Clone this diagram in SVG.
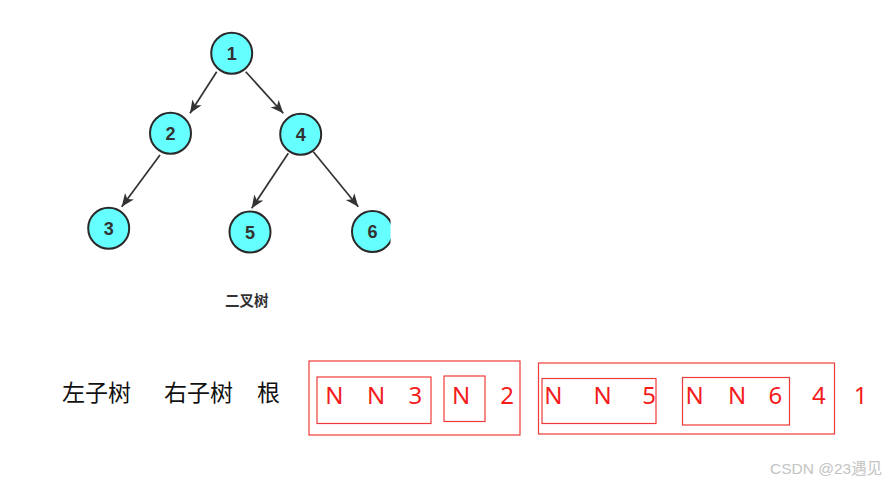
<svg xmlns="http://www.w3.org/2000/svg" width="890" height="483" viewBox="0 0 890 483">
<style>
.node circle{fill:#66FFFF;stroke:#2a2a2a;stroke-width:2}
.node text{font-family:"Liberation Sans","Noto Sans",sans-serif;font-weight:bold;font-size:18px;fill:#333;text-anchor:middle}
.edge{stroke:#333;stroke-width:1.7;fill:none;marker-end:url(#arr)}
.box{fill:none;stroke:#f03a3a;stroke-width:1.2}
.red{font-family:"Noto Sans","Noto Sans CJK SC",sans-serif;font-size:24px;fill:#f41c1c;text-anchor:middle}
.blk{font-family:"Noto Sans CJK SC",sans-serif;font-size:23px;fill:#111}
</style>
<defs>
<marker id="arr" markerUnits="userSpaceOnUse" markerWidth="14" markerHeight="12" refX="13" refY="6" orient="auto">
<path d="M0,0.5 L13,6 L0,11.5 L3.5,6 Z" fill="#333"/>
</marker>
<clipPath id="clip6"><rect x="340" y="200" width="50.5" height="60"/></clipPath>
</defs>
<rect width="890" height="483" fill="#fff"/>
<g id="connectors">
<line class="edge" x1="216.7" y1="71.7" x2="190" y2="113.3"/>
<line class="edge" x1="245.7" y1="71.7" x2="283.3" y2="113.3"/>
<line class="edge" x1="160" y1="155" x2="121.7" y2="206.7"/>
<line class="edge" x1="288.3" y1="153.3" x2="251.7" y2="208.3"/>
<line class="edge" x1="313.3" y1="151.7" x2="358.3" y2="206.7"/>
</g>
<g id="n1" class="node"><circle cx="231.7" cy="53.3" r="20.5"/><text x="231.7" y="59.8">1</text></g>
<g id="n2" class="node"><circle cx="170.5" cy="133.3" r="20.5"/><text x="170.5" y="139.8">2</text></g>
<g id="n4" class="node"><circle cx="300.7" cy="134.3" r="20.5"/><text x="300.7" y="140.8">4</text></g>
<g id="n3" class="node"><circle cx="108.7" cy="228.3" r="20.5"/><text x="108.7" y="234.8">3</text></g>
<g id="n5" class="node"><circle cx="250" cy="232" r="20.5"/><text x="250" y="238.5">5</text></g>
<g id="n6" class="node"><g clip-path="url(#clip6)"><circle cx="372.5" cy="231.5" r="20.5"/></g><text x="372.5" y="238">6</text></g>
<text x="225" y="306" font-family="'Noto Sans CJK SC',sans-serif" font-size="14.5" font-weight="bold" fill="#333">二叉树</text>
<text class="blk" x="62" y="400.5">左子树</text>
<text class="blk" x="164" y="400.5">右子树</text>
<text class="blk" x="257" y="400.5">根</text>
<g id="group-left">
<rect class="box" x="309" y="361" width="211" height="74"/>
<rect class="box" x="317" y="377" width="114" height="46.5"/>
<rect class="box" x="444" y="376" width="41" height="45.5"/>
<text class="red" x="334.3" y="404.3">N</text>
<text class="red" x="376" y="404.3">N</text>
<text class="red" x="415.3" y="404.3">3</text>
<text class="red" x="461" y="404.3">N</text>
<text class="red" x="507" y="404.3">2</text>
</g>
<g id="group-right">
<rect class="box" x="538.5" y="363" width="296" height="71"/>
<rect class="box" x="542" y="378.5" width="114" height="45"/>
<rect class="box" x="682.5" y="377.5" width="107" height="47.5"/>
<text class="red" x="553.3" y="404.3">N</text>
<text class="red" x="602.5" y="404.3">N</text>
<text class="red" x="649" y="404.3">5</text>
<text class="red" x="694.5" y="404.3">N</text>
<text class="red" x="737" y="404.3">N</text>
<text class="red" x="775.3" y="404.3">6</text>
<text class="red" x="818.8" y="404.3">4</text>
</g>
<text class="red" x="860.5" y="404.3">1</text>
<text x="770" y="473.5" font-family="'Liberation Sans','Noto Sans CJK SC',sans-serif" font-size="15.5" fill="#c4c4c4">CSDN @23遇见</text>
</svg>
